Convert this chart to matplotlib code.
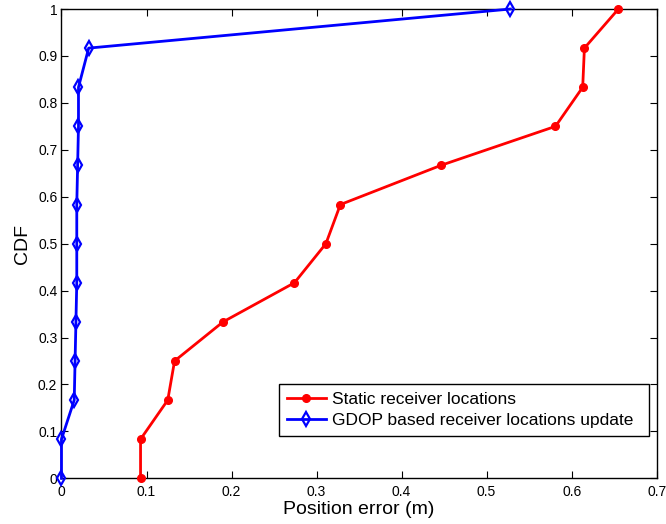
import matplotlib
matplotlib.use("Agg")
from matplotlib import pyplot as plt

plt.rcParams['font.family'] = ['Liberation Sans', 'DejaVu Sans']

cdf = [0, 0.0833, 0.1667, 0.25, 0.3333, 0.4167, 0.5, 0.5833, 0.6667, 0.75, 0.8333, 0.9167, 1.0]
static_err = [0.093, 0.093, 0.125, 0.133, 0.190, 0.274, 0.311, 0.328, 0.446, 0.581, 0.613, 0.615, 0.655]
gdop_err = [0.0, 0.0, 0.015, 0.016, 0.017, 0.018, 0.018, 0.018, 0.019, 0.020, 0.020, 0.032, 0.528]

xticks = [0, 0.1, 0.2, 0.3, 0.4, 0.5, 0.6, 0.7]
yticks = [0, 0.1, 0.2, 0.3, 0.4, 0.5, 0.6, 0.7, 0.8, 0.9, 1]

fig = plt.figure(figsize=(6.66, 5.24), dpi=100)
ax = fig.add_axes([0.0923, 0.0872, 0.8937, 0.8956])

ax.plot(static_err, cdf, color='red', linewidth=2, marker='o', markersize=5.5,
        clip_on=False, zorder=3, label='Static receiver locations')
ax.plot(gdop_err, cdf, color='blue', linewidth=2, marker='d', markersize=7.5,
        markerfacecolor='none', markeredgewidth=1.6, clip_on=False, zorder=3,
        label='GDOP based receiver locations update')

ax.set_xlim(0, 0.7)
ax.set_ylim(0, 1)
ax.set_xticks(xticks)
ax.set_xticklabels([f"{v:g}" for v in xticks])
ax.set_yticks(yticks)
ax.set_yticklabels([f"{v:g}" for v in yticks])
ax.tick_params(direction='in', top=True, right=True, labelsize=10, length=5)
ax.tick_params(axis='x', pad=5)
ax.tick_params(axis='y', pad=3)
for s in ax.spines.values():
    s.set_linewidth(1)

ax.set_xlabel('Position error (m)', fontsize=14, labelpad=1)
ax.set_ylabel('CDF', fontsize=14, labelpad=5)

# legend box stretched to the width MATLAB gives it
leg = ax.legend(loc='lower left', bbox_to_anchor=(0.365, 0.09, 0.622, 0.11),
                mode='expand', fontsize=12.5,
                fancybox=False, edgecolor='black', framealpha=1,
                handlelength=2.3, handletextpad=0.3, borderpad=0.45,
                labelspacing=0.35, borderaxespad=0)
leg.get_frame().set_linewidth(1)

fig.savefig('out.png', dpi=100)
